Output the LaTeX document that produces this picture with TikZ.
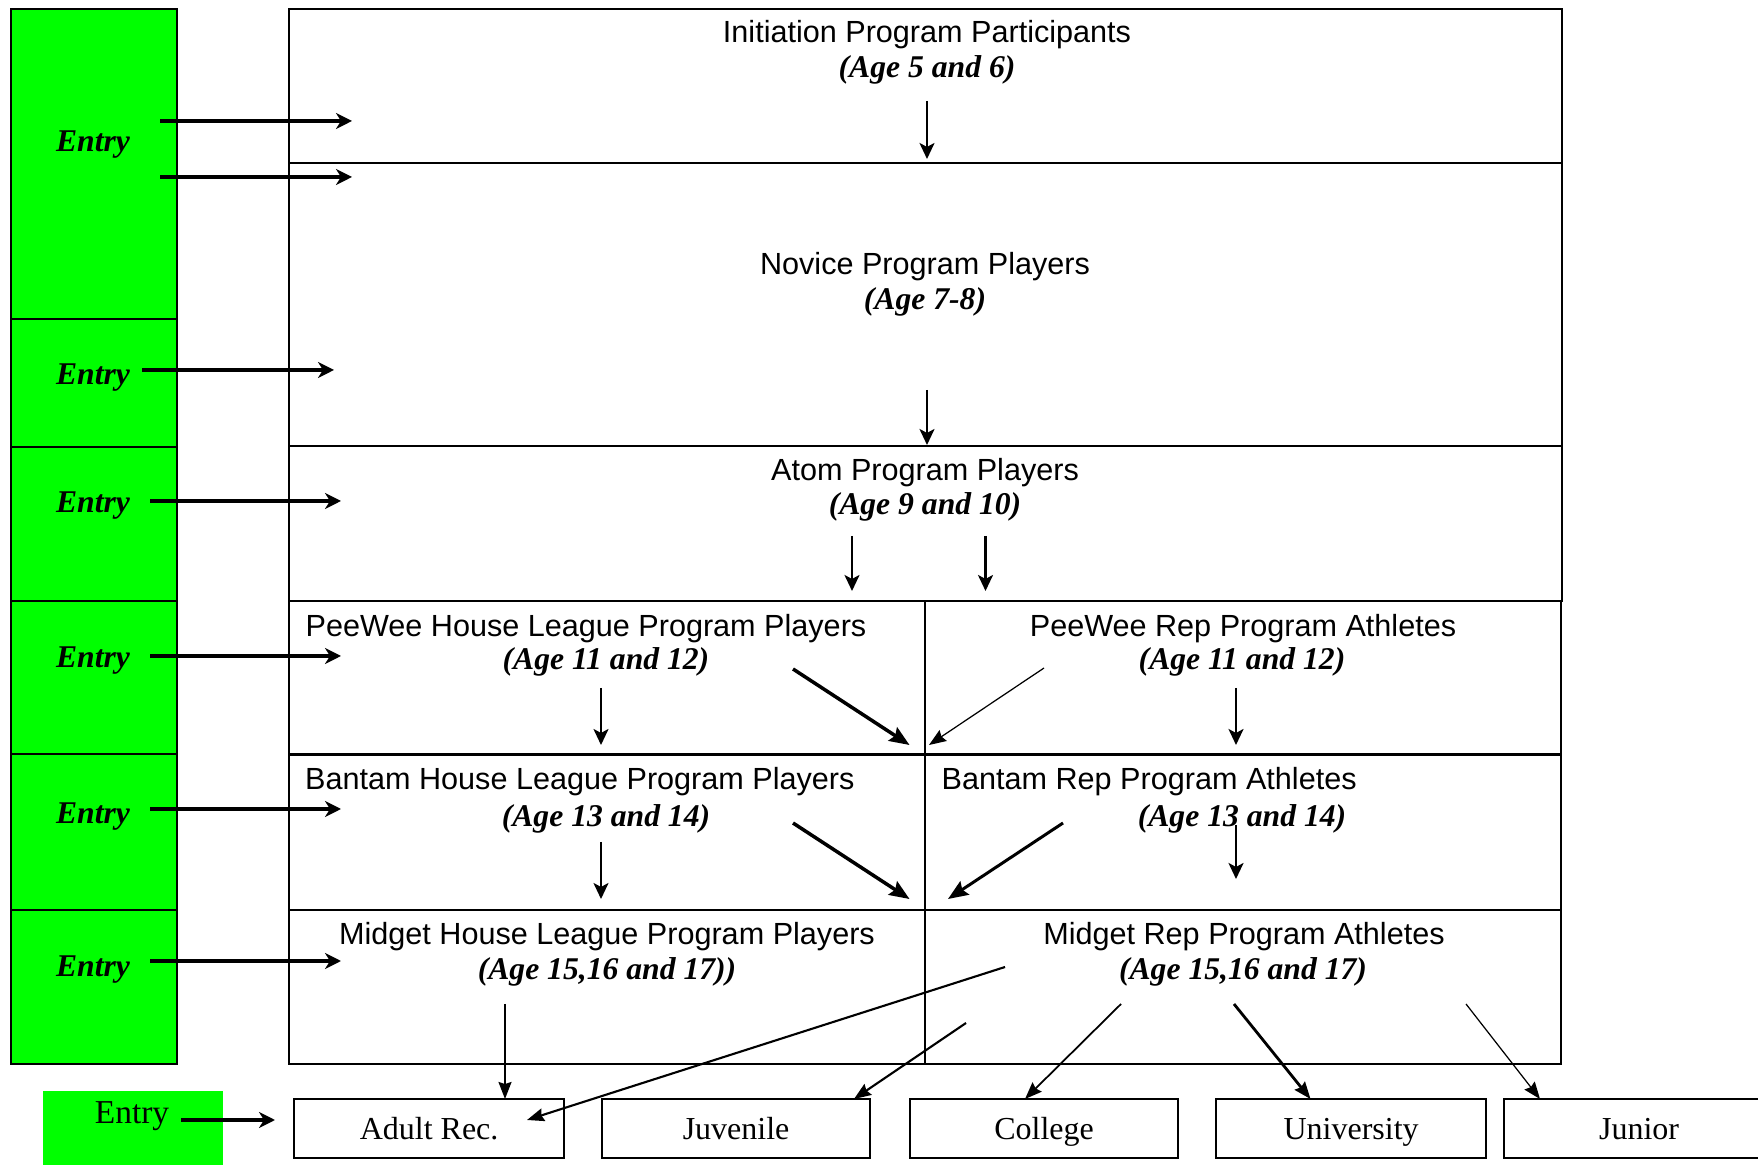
\documentclass[tikz,border=0pt]{standalone}
\usepackage{fontspec}
\setmainfont{Liberation Serif}
\newfontfamily\sansf{Liberation Sans}
\usetikzlibrary{arrows.meta}
\definecolor{entrygreen}{RGB}{0,255,0}
\begin{document}
\begin{tikzpicture}[x=0.01cm,y=-0.01cm,
  cell/.style={draw, line width=0.57pt, anchor=north west, inner sep=0pt, outer sep=0pt},
  gcell/.style={cell, fill=entrygreen, minimum width=1.66cm},
  bbox/.style={cell, minimum height=0.59cm, text height=0.3cm, text depth=0.09cm, font=\fontsize{9.1}{10}\selectfont},
  ttl/.style={font=\sansf\fontsize{8.7}{10}\selectfont, inner sep=0pt},
  age/.style={font=\fontsize{9}{10}\selectfont\bfseries\itshape, inner sep=0pt},
  ent/.style={font=\fontsize{9}{10}\selectfont\bfseries\itshape, inner sep=0pt},
  earrow/.style={-{Stealth[length=0.16cm,width=0.16cm,inset=0.05cm]}, line width=0.95pt},
  darrow/.style={-{Stealth[length=0.16cm,width=0.15cm,inset=0.04cm]}, line width=0.7pt},
  tarrow/.style={-{Stealth[length=0.2cm,width=0.16cm,inset=0.03cm]}, line width=1.0pt},
  thinarrow/.style={-{Stealth[length=0.17cm,width=0.13cm,inset=0.02cm]}, line width=0.35pt},
  barrow/.style={-{Stealth[length=0.17cm,width=0.13cm,inset=0.02cm]}, line width=0.6pt}
]
\useasboundingbox (0,0) rectangle (1758,1165);
\clip (0,0) rectangle (1758,1165);

% green entry column
\node[gcell, minimum height=3.105cm] (g1) at (11,9) {};
\node[gcell, minimum height=1.275cm] (g2) at (11,319.5) {};
\node[gcell, minimum height=1.54cm] (g3) at (11,447) {};
\node[gcell, minimum height=1.535cm] (g4) at (11,601) {};
\node[gcell, minimum height=1.555cm] (g5) at (11,754.5) {};
\node[gcell, minimum height=1.54cm] (g6) at (11,910) {};
\node[ent] (e1) at (93,144.5) {Entry};
\node[ent] (e2) at (93,377.5) {Entry};
\node[ent] (e3) at (93,505.5) {Entry};
\node[ent] (e4) at (93,660.5) {Entry};
\node[ent] (e5) at (93,816.5) {Entry};
\node[ent] (e6) at (93,969.5) {Entry};

% main program boxes
\node[cell, minimum width=12.72cm, minimum height=1.54cm] (init) at (289,9) {};
\node[cell, minimum width=12.72cm, minimum height=2.83cm] (nov) at (289,163) {};
\node[cell, minimum width=12.72cm, minimum height=1.55cm] (atom) at (289,446) {};
\node[cell, minimum width=6.36cm, minimum height=1.535cm] (pwh) at (289,601) {};
\node[cell, minimum width=6.36cm, minimum height=1.535cm] (pwr) at (925,601) {};
\node[cell, minimum width=6.36cm, minimum height=1.555cm] (bh) at (289,754.5) {};
\node[cell, minimum width=6.36cm, minimum height=1.555cm] (br) at (925,754.5) {};
\node[cell, minimum width=6.36cm, minimum height=1.54cm] (mh) at (289,910) {};
\node[cell, minimum width=6.36cm, minimum height=1.54cm] (mr) at (925,910) {};

% texts
\node[ttl] (t1) at (927,35) {Initiation Program Participants};
\node[age] (a1) at (927,69.5) {(Age 5 and 6)};
\node[ttl] (t2) at (925,267) {Novice Program Players};
\node[age] (a2) at (925,301.5) {(Age 7-8)};
\node[ttl] (t3) at (925,472.5) {Atom Program Players};
\node[age] (a3) at (925,506.5) {(Age 9 and 10)};
\node[ttl] (t4) at (586,628.5) {PeeWee House League Program Players};
\node[age] (a4) at (606,661.5) {(Age 11 and 12)};
\node[ttl] (t5) at (1243,628.5) {PeeWee Rep Program Athletes};
\node[age] (a5) at (1242,661.5) {(Age 11 and 12)};
\node[ttl, anchor=west] (t6) at (304.5,781.5) {Bantam House League Program Players};
\node[age] (a6) at (606,818.5) {(Age 13 and 14)};
\node[ttl, anchor=west] (t7) at (941,781.5) {Bantam Rep Program Athletes};
\node[age] (a7) at (1242,818.5) {(Age 13 and 14)};
\node[ttl] (t8) at (607,936.5) {Midget House League Program Players};
\node[age] (a8) at (607,971.5) {(Age 15,16 and 17))};
\node[ttl] (t9) at (1244,936.5) {Midget Rep Program Athletes};
\node[age] (a9) at (1243,971.5) {(Age 15,16 and 17)};

% bottom entry and destination boxes
\node[fill=entrygreen, anchor=north west, minimum width=1.8cm, minimum height=0.74cm, inner sep=0pt] (g7) at (42,1090) {};
\node[font=\fontsize{9.5}{10}\selectfont, inner sep=0pt] (e7) at (132,1116.5) {Entry};
\node[bbox, minimum width=2.7cm] (adult) at (294,1099) {Adult Rec.};
\node[bbox, minimum width=2.68cm] (juv) at (602,1099) {Juvenile};
\node[bbox, minimum width=2.68cm] (coll) at (910,1099) {College};
\node[bbox, minimum width=2.7cm] (univ) at (1216,1099) {University};
\node[bbox, minimum width=2.7cm] (jun) at (1504,1099) {Junior};

% coordinates for arrow ends
\coordinate (p1s) at (160,121);  \coordinate (p1e) at (352,121);
\coordinate (p2s) at (160,177);  \coordinate (p2e) at (352,177);
\coordinate (p3s) at (142,370);  \coordinate (p3e) at (334,370);
\coordinate (p4s) at (150,501);  \coordinate (p4e) at (341,501);
\coordinate (p5s) at (150,656);  \coordinate (p5e) at (341,656);
\coordinate (p6s) at (150,809);  \coordinate (p6e) at (341,809);
\coordinate (p7s) at (150,961);  \coordinate (p7e) at (341,961);
\coordinate (p8s) at (181,1120); \coordinate (p8e) at (275,1120);

\coordinate (d1s) at (927,101);  \coordinate (d1e) at (927,159);
\coordinate (d2s) at (927,390);  \coordinate (d2e) at (927,445);
\coordinate (d3s) at (852,536);  \coordinate (d3e) at (852,591);
\coordinate (d4s) at (985.5,536);\coordinate (d4e) at (985.5,591);
\coordinate (d5s) at (601,688);  \coordinate (d5e) at (601,745);
\coordinate (d6s) at (793,669);  \coordinate (d6e) at (909.5,745);
\coordinate (d7s) at (1044,668); \coordinate (d7e) at (929,745);
\coordinate (d8s) at (1236,688); \coordinate (d8e) at (1236,745);
\coordinate (d9s) at (601,842);  \coordinate (d9e) at (601,899);
\coordinate (d10s) at (793,823); \coordinate (d10e) at (909.5,899);
\coordinate (d11s) at (1063,823);\coordinate (d11e) at (948,899);
\coordinate (d12s) at (1236,825);\coordinate (d12e) at (1236,879);

\coordinate (b1s) at (505,1004); \coordinate (b1e) at (505,1099);
\coordinate (b2s) at (1005,967); \coordinate (b2e) at (527,1120);
\coordinate (b3s) at (966,1023); \coordinate (b3e) at (854,1099);
\coordinate (b4s) at (1121,1004);\coordinate (b4e) at (1025,1099);
\coordinate (b5s) at (1234,1004);\coordinate (b5e) at (1310.5,1099);
\coordinate (b6s) at (1466,1004);\coordinate (b6e) at (1540,1099);

% entry arrows
\foreach \i in {1,...,8} \draw[earrow] (p\i s) -- (p\i e);

% progression arrows
\draw[darrow] (d1s) -- (d1e);
\draw[darrow] (d2s) -- (d2e);
\draw[darrow] (d3s) -- (d3e);
\draw[darrow] (d4s) -- (d4e);
\draw[darrow] (d5s) -- (d5e);
\draw[tarrow] (d6s) -- (d6e);
\draw[thinarrow] (d7s) -- (d7e);
\draw[darrow] (d8s) -- (d8e);
\draw[darrow] (d9s) -- (d9e);
\draw[tarrow] (d10s) -- (d10e);
\draw[tarrow, line width=0.85pt] (d11s) -- (d11e);
\draw[darrow] (d12s) -- (d12e);

% exit arrows
\draw[barrow, line width=0.45pt] (b1s) -- (b1e);
\draw[barrow] (b2s) -- (b2e);
\draw[barrow] (b3s) -- (b3e);
\draw[barrow, line width=0.5pt] (b4s) -- (b4e);
\draw[barrow, line width=0.8pt] (b5s) -- (b5e);
\draw[thinarrow] (b6s) -- (b6e);
\end{tikzpicture}
\end{document}
